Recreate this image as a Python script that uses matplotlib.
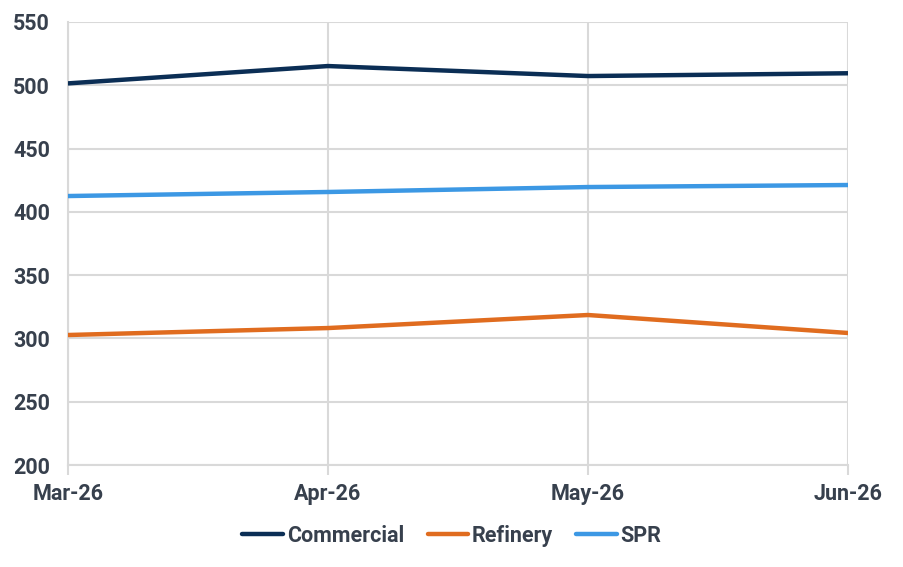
import matplotlib
matplotlib.use("Agg")
import matplotlib.pyplot as plt

months = ["Mar-26", "Apr-26", "May-26", "Jun-26"]
commercial = [501.5, 515.2, 507.3, 509.5]
refinery = [302.7, 308.2, 318.5, 304.3]
spr = [412.5, 415.7, 419.6, 421.2]

series_names = ["Commercial", "Refinery", "SPR"]
colors = ["#0b2e55", "#e06c1f", "#3c98e4"]
text_color = "#37404d"
grid_color = "#d9d9d9"

plt.rcParams['font.family'] = ['Roboto', 'DejaVu Sans']
fs = 15.5

fig = plt.figure(figsize=(9.04, 5.67), dpi=100)
ax = fig.add_axes([68/904, 1-465/567, (848-68)/904, (465-22)/567])

x = list(range(len(months)))
for vals, name, c in zip([commercial, refinery, spr], series_names, colors):
    ax.plot(x, vals, color=c, lw=3.2, label=name, solid_capstyle='round', zorder=3)

ax.set_xlim(0, 3)
ax.set_ylim(200, 550)
ax.set_yticks(range(200, 551, 50))
ax.set_xticks(x)
ax.set_xticklabels(months)
ax.grid(True, color=grid_color, lw=1.5, zorder=0)
for s in ["top", "right"]:
    ax.spines[s].set_visible(False)
ax.spines["left"].set_color(grid_color)
ax.spines["left"].set_linewidth(1.5)
ax.spines["bottom"].set_color(grid_color)
ax.spines["bottom"].set_linewidth(1.5)
ax.tick_params(axis='y', length=0, pad=13, labelsize=fs, labelcolor=text_color)
ax.tick_params(axis='x', length=7, width=1.5, color=grid_color, pad=6, labelsize=fs, labelcolor=text_color)
for lab in ax.get_xticklabels() + ax.get_yticklabels():
    lab.set_fontweight('bold')

leg = fig.legend(loc='center', bbox_to_anchor=(0.5, 1-536/567), ncol=3, frameon=False,
                 prop={'weight': 'bold', 'size': fs}, handlelength=1.9, handletextpad=0.15,
                 columnspacing=1.1)
for t in leg.get_texts():
    t.set_color(text_color)
for h in leg.get_lines():
    h.set_solid_capstyle('round')

fig.savefig("out.png", dpi=100)
